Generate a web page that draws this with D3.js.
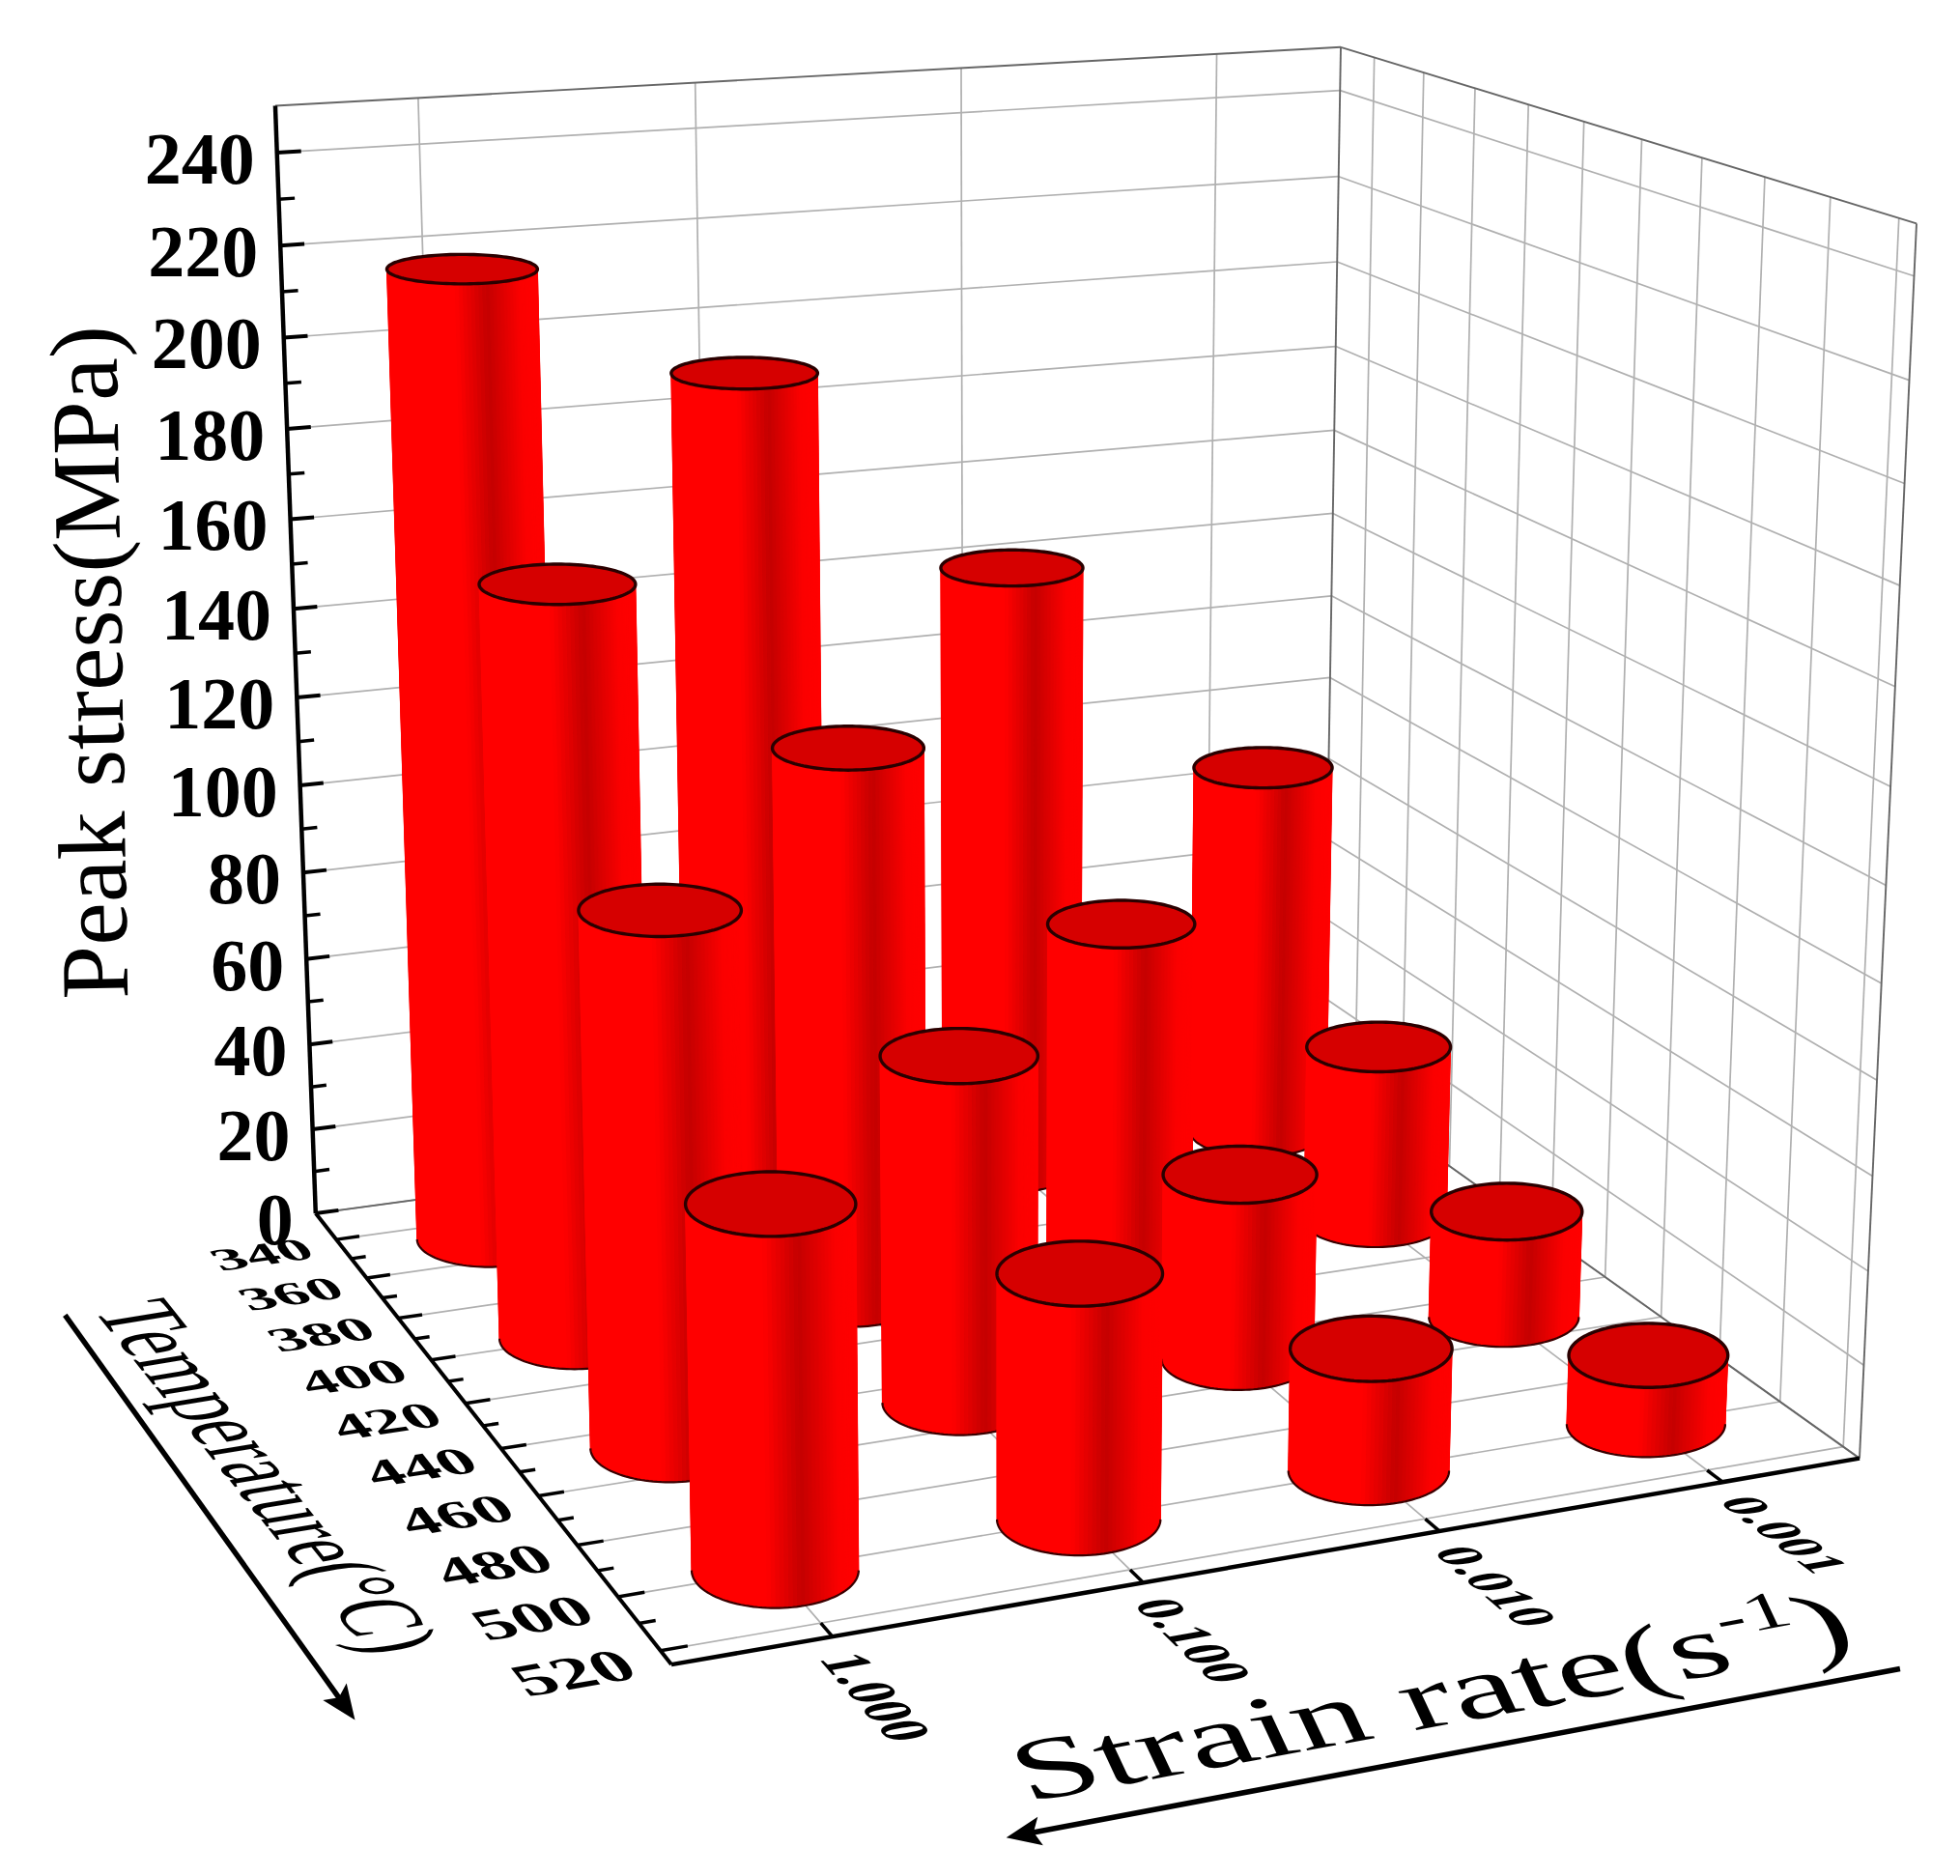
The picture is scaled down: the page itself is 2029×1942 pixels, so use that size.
<!DOCTYPE html>
<html><head><meta charset="utf-8">
<script src="https://cdn.jsdelivr.net/npm/d3@7"></script>
<style>html,body{margin:0;background:#fff}svg{display:block;filter:blur(.7px)}text{font-family:"Liberation Serif",serif;fill:#000}</style>
</head><body><svg id="c" width="2029" height="1942"></svg>
<script>
const strainRates=["1.000","0.100","0.010","0.001"];
const temperatures=[350,400,450,500];
const stress1000=[218,164,113,74];
const stress0100=[191,123,75,51];
const stress0010=[142,77,41,26];
const stress0001=[89,41,24,15];
const stressSeries=[stress1000,stress0100,stress0010,stress0001];
const zTicks=d3.range(0,241,20), zMinor=d3.range(10,250,20);
const tTicks=d3.range(340,521,20), tMinor=d3.range(350,520,20);

const S=2029/1568;
const corners=[[0,0,0,252,970],[0,1,0,538,1332],[1,1,0,1487,1167],[1,0,0,1059,861],[0,0,1,220,85],[1,0,1,1073,38],[1,1,1,1533,178]];
function solveCamera(c){
  const A=[],b=[];
  c.forEach(([X,Y,Z,x0,y0])=>{const x=x0*S,y=y0*S;
    A.push([X,Y,Z,1,0,0,0,0,-x*X,-x*Y,-x*Z]);b.push(x);
    A.push([0,0,0,0,X,Y,Z,1,-y*X,-y*Y,-y*Z]);b.push(y);});
  const n=11,M=d3.range(n).map(i=>d3.range(n+1).map(j=>j<n?d3.sum(A,r=>r[i]*r[j]):d3.sum(A,(r,k)=>r[i]*b[k])));
  for(let i=0;i<n;i++){let p=i;for(let k=i+1;k<n;k++)if(Math.abs(M[k][i])>Math.abs(M[p][i]))p=k;[M[i],M[p]]=[M[p],M[i]];
    for(let k=0;k<n;k++)if(k!==i){const f=M[k][i]/M[i][i];for(let j=i;j<=n;j++)M[k][j]-=f*M[i][j];}}
  return d3.range(n).map(i=>M[i][n]/M[i][i]);
}
const p=solveCamera(corners);
const proj=(u,v,w)=>{const d=p[8]*u+p[9]*v+p[10]*w+1;return [(p[0]*u+p[1]*v+p[2]*w+p[3])/d,(p[4]*u+p[5]*v+p[6]*w+p[7])/d];};
const uS=d3.scalePoint().domain(strainRates).range([0,1]).padding(.5);
const vS=d3.scaleLinear().domain([326,525]).range([0,1]);
const wS=d3.scaleLinear().domain([0,250]).range([0,1]);
const jac=(u,v,w)=>{const e=1e-3,a=proj(u,v,w),bu=proj(u+e,v,w),bv=proj(u,v+e,w);return {du:[(bu[0]-a[0])/e,(bu[1]-a[1])/e],dv:[(bv[0]-a[0])/e,(bv[1]-a[1])/e]};};

const svg=d3.select("#c");
const line=d3.line();
const seg=(g,a,b,col,w)=>g.append("path").attr("d",line([proj(...a),proj(...b)])).attr("stroke",col).attr("stroke-width",w).attr("fill","none");

// grid
const grid=svg.append("g");
const GC="#b0b0b0",GW=1.7;
zTicks.forEach(z=>{const w=wS(z);seg(grid,[0,0,w],[1,0,w],GC,GW);seg(grid,[1,0,w],[1,1,w],GC,GW);});
strainRates.forEach(s=>{const u=uS(s);seg(grid,[u,0,0],[u,0,1],GC,GW);seg(grid,[u,0,0],[u,1,0],GC,GW);});
tTicks.forEach(t=>{const v=vS(t);seg(grid,[1,v,0],[1,v,1],GC,GW);seg(grid,[0,v,0],[1,v,0],GC,GW);});
// box
const box=svg.append("g");
[[[0,0,1],[1,0,1]],[[1,0,1],[1,1,1]],[[1,0,0],[1,0,1]],[[1,1,0],[1,1,1]],[[0,0,0],[1,0,0]],[[1,0,0],[1,1,0]]].forEach(([a,b])=>seg(box,a,b,"#666",1.9));
// axes
const ax=svg.append("g");
seg(ax,[0,0,0],[0,0,1],"#000",4.5);seg(ax,[0,0,0],[0,1,0],"#000",4);seg(ax,[0,1,0],[1,1,0],"#000",4.5);
zTicks.forEach(z=>seg(ax,[0,0,wS(z)],[.021,0,wS(z)],"#000",4));
zMinor.forEach(z=>seg(ax,[0,0,wS(z)],[.014,0,wS(z)],"#000",3.5));
tTicks.forEach(t=>seg(ax,[0,vS(t),0],[.021,vS(t),0],"#000",3.5));
tMinor.forEach(t=>seg(ax,[0,vS(t),0],[.013,vS(t),0],"#000",3.5));
strainRates.forEach(s=>seg(ax,[uS(s),1,0],[uS(s),.975,0],"#000",3.5));

// bars
const RU=.0625,RV=.069;
const shade=d3.scaleLinear().domain([0,.45,.66,.88,1]).range(["#ff0000","#ff0000","#c40000","#fb0000","#ff0000"]);
const bars=[];
strainRates.forEach((s,i)=>temperatures.forEach((t,j)=>bars.push({s,t,val:stressSeries[i][j]})));
bars.sort((a,b)=>d3.ascending(a.t,b.t)||d3.ascending(uS(a.s),uS(b.s)));
const angles=d3.range(0,360,3).map(a=>a*Math.PI/180);
const barG=svg.append("g");
bars.forEach(d=>{
  const u=uS(d.s),v=vS(d.t),w=wS(d.val),g=barG.append("g");
  const ring=h=>{const c=proj(u,v,h),J=jac(u,v,h),
      rx=Math.hypot(RU*J.du[0],RV*J.dv[0]),ry=Math.hypot(RU*J.du[1],RV*J.dv[1]);
    return angles.map(a=>[c[0]+rx*Math.cos(a),c[1]+ry*Math.sin(a)]);};
  const lo=ring(0),hi=ring(w);
  g.append("path").attr("d",line(d3.polygonHull(lo.concat(hi)))+"Z").attr("fill","#f00");
  const x0=d3.min(lo,q=>q[0]),x1=d3.max(lo,q=>q[0]);
  const front=[];
  lo.forEach((q,i)=>{const k=(i+1)%lo.length,q2=lo[k];
    if(i<angles.length/2){
      const col=shade(((q[0]+q2[0])/2-x0)/(x1-x0));
      g.append("path").attr("d",line([q,q2,hi[k],hi[i]])+"Z").attr("fill",col).attr("stroke",col).attr("stroke-width",.7);
      front.push(q);
    }});
  front.push(lo[angles.length/2]);
  g.append("path").attr("d",line(front)).attr("fill","none").attr("stroke","#3a0000").attr("stroke-width",2.2);
  g.append("path").attr("d",line(hi)+"Z").attr("fill","#d60000").attr("stroke","#2a0000").attr("stroke-width",3.4);
});

// labels
const labels=svg.append("g");
const mat=(a,c,pos)=>`matrix(${a[0]},${a[1]},${c[0]},${c[1]},${pos[0]},${pos[1]})`;
zTicks.forEach(z=>{const q=proj(0,0,wS(z));
  labels.append("text").text(z).attr("font-size",76).attr("font-weight","bold").attr("text-anchor","end")
    .attr("x",q[0]-23).attr("y",q[1]+32);});
tTicks.forEach(t=>{const v=vS(t),pos=proj(-.027,v,0),J=jac(0,v,0);
  const a=[J.du[0]*1.17e-3,J.du[1]*1.17e-3],c=[J.dv[0]*1.55e-3,J.dv[1]*1.55e-3];
  labels.append("text").text(t).attr("font-size",50).attr("font-weight","bold").attr("text-anchor","end").attr("dy","0.48em").attr("transform",mat(a,c,pos));});
strainRates.forEach(s=>{const u=uS(s)-.006,pos=proj(u,1.03,0),J=jac(u,1,0);
  const a=[J.dv[0]*1.75e-3,J.dv[1]*1.75e-3],c=[-J.du[0]*1.25e-3,-J.du[1]*1.25e-3];
  labels.append("text").text(s).attr("font-size",40).attr("font-weight","bold").attr("dy","0.33em").attr("transform",mat(a,c,pos));});
labels.append("text").text("Peak stress(MPa)").attr("font-size",100).attr("text-anchor","middle").attr("dy","0.33em")
  .attr("transform",`translate(${72*S},${530*S}) rotate(-91)`);
labels.append("text").text("Temperature(°C)").attr("font-size",71).attr("text-anchor","middle")
  .attr("transform",mat([.6,.75],[-1.58,.26],[185*S,1186*S]));
const sr=labels.append("text").attr("font-size",97).attr("text-anchor","middle").attr("transform",mat([1.56,-.29],[.42,.9],[1155*S,1380*S]));
sr.append("tspan").text("Strain rate(s");
sr.append("tspan").text("-1").attr("font-size",58).attr("dy",-38);
sr.append("tspan").text(")").attr("dy",38);

// arrows
const arr=svg.append("g");
const arrow=(a,b)=>{const A=[a[0]*S,a[1]*S],B=[b[0]*S,b[1]*S],L=Math.hypot(B[0]-A[0],B[1]-A[1]),d=[(B[0]-A[0])/L,(B[1]-A[1])/L],n=[-d[1],d[0]];
  arr.append("path").attr("d",line([A,[B[0]-d[0]*20,B[1]-d[1]*20]])).attr("stroke","#000").attr("stroke-width",5.5);
  const h=36,w=15;arr.append("path").attr("d",line([B,[B[0]-d[0]*h+n[0]*w,B[1]-d[1]*h+n[1]*w],[B[0]-d[0]*h*.8,B[1]-d[1]*h*.8],[B[0]-d[0]*h-n[0]*w,B[1]-d[1]*h-n[1]*w]])+"Z").attr("fill","#000");};
arrow([52,1052],[284,1376]);
arrow([1520,1335],[805,1470]);
</script></body></html>
